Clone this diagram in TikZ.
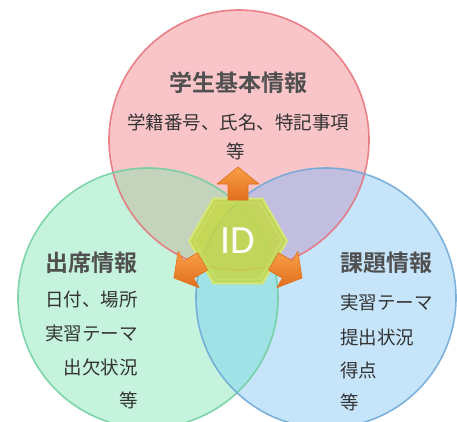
\documentclass[tikz,border=0pt]{standalone}
\usepackage{fontspec}
\newfontfamily\jp{Noto Sans CJK JP}
\newfontfamily\jpb{Noto Sans CJK JP Bold}
\newfontfamily\idfont{Carlito}
\usetikzlibrary{shapes.geometric}
\definecolor{pinkfill}{RGB}{249,197,201}
\definecolor{greenfill}{RGB}{197,243,221}
\definecolor{bluefill}{RGB}{198,229,250}
\definecolor{pgfill}{RGB}{196,212,188}
\definecolor{pbfill}{RGB}{194,190,224}
\definecolor{gbfill}{RGB}{160,226,230}
\definecolor{pgbfill}{RGB}{170,200,200}
\definecolor{pinkline}{RGB}{232,112,120}
\definecolor{greenline}{RGB}{110,206,156}
\definecolor{blueline}{RGB}{108,166,214}
\definecolor{titlegray}{RGB}{80,80,80}
\definecolor{bodygray}{RGB}{51,51,51}
\definecolor{hexfill}{RGB}{196,216,70}
\definecolor{hexrim}{RGB}{214,230,120}
\definecolor{arrowdark}{RGB}{226,110,28}
\definecolor{arrowlight}{RGB}{248,160,70}
\tikzset{
  ttl/.style={font=\jpb\fontsize{23pt}{23pt}\selectfont, text=titlegray, inner sep=0pt},
  bodytxt/.style={font=\jp\fontsize{18.5pt}{18.5pt}\selectfont, text=bodygray, inner sep=0pt},
  topbody/.style={font=\jp\fontsize{18.5pt}{18.5pt}\selectfont, text=bodygray, inner sep=0pt},
  ring/.style={line width=1.6pt, opacity=0.85},
  blockarrow/.style={top color=arrowlight, bottom color=arrowdark, draw=arrowdark, line width=0.6pt, line join=round},
}
\begin{document}
\begin{tikzpicture}[x=1pt,y=-1pt]
\useasboundingbox (0,0) rectangle (457,421);
\coordinate (cP) at (239,140);
\coordinate (cG) at (148,298);
\coordinate (cB) at (326,298);
% fills
\fill[pinkfill] (cP) circle (130pt);
\fill[greenfill] (cG) circle (130pt);
\fill[bluefill] (cB) circle (130pt);
\begin{scope}\clip (cP) circle (130pt); \fill[pgfill] (cG) circle (130pt); \end{scope}
\begin{scope}\clip (cP) circle (130pt); \fill[pbfill] (cB) circle (130pt); \end{scope}
\begin{scope}\clip (cG) circle (130pt); \fill[gbfill] (cB) circle (130pt); \end{scope}
\begin{scope}\clip (cP) circle (130pt); \clip (cG) circle (130pt); \fill[pgbfill] (cB) circle (130pt); \end{scope}
% outlines
\draw[ring, pinkline] (cP) circle (130pt);
\draw[ring, greenline] (cG) circle (130pt);
\draw[ring, blueline] (cB) circle (130pt);
% hexagon
\node[regular polygon, regular polygon sides=6, minimum size=98pt, inner sep=0pt,
      fill=hexfill, fill opacity=0.85, draw=hexrim, line width=2pt] (hex) at (238,241) {};
\node[regular polygon, regular polygon sides=6, minimum size=88pt, inner sep=0pt,
      draw=hexrim, line width=0.8pt, opacity=0.7] (hexin) at (238,241) {};
\node[font=\idfont\fontsize{40pt}{40pt}\selectfont, text=white, inner sep=0pt] (idtxt) at (hex.center) {ID};
% arrows
\foreach \ang/\nm in {0/aup,120/aleft,-120/aright}{
  \begin{scope}[shift={(238,241)}, rotate=\ang]
    \path[blockarrow] (-10,-41) -- (-10,-57) -- (-21,-57) -- (0,-74) -- (21,-57) -- (10,-57) -- (10,-41) -- cycle;
    \coordinate (\nm) at (0,-74);
  \end{scope}
}
% top texts
\node[ttl] (t1) at (238,83) {学生基本情報};
\node[topbody] (t1a) at (238,122) {学籍番号、氏名、特記事項};
\node[topbody] (t1b) at (236,151) {等};
% left texts
\node[ttl, anchor=east] (t2) at (138,263) {出席情報};
\node[bodytxt, anchor=east] (t2a) at (138,300) {日付、場所};
\node[bodytxt, anchor=east] (t2b) at (138,333) {実習テーマ};
\node[bodytxt, anchor=east] (t2c) at (138,367) {出欠状況};
\node[bodytxt, anchor=east] (t2d) at (138,400) {等};
% right texts
\node[ttl, anchor=west] (t3) at (340,263) {課題情報};
\node[bodytxt, anchor=west] (t3a) at (340,302) {実習テーマ};
\node[bodytxt, anchor=west] (t3b) at (340,337) {提出状況};
\node[bodytxt, anchor=west] (t3c) at (340,370) {得点};
\node[bodytxt, anchor=west] (t3d) at (340,402) {等};
\end{tikzpicture}
\end{document}
